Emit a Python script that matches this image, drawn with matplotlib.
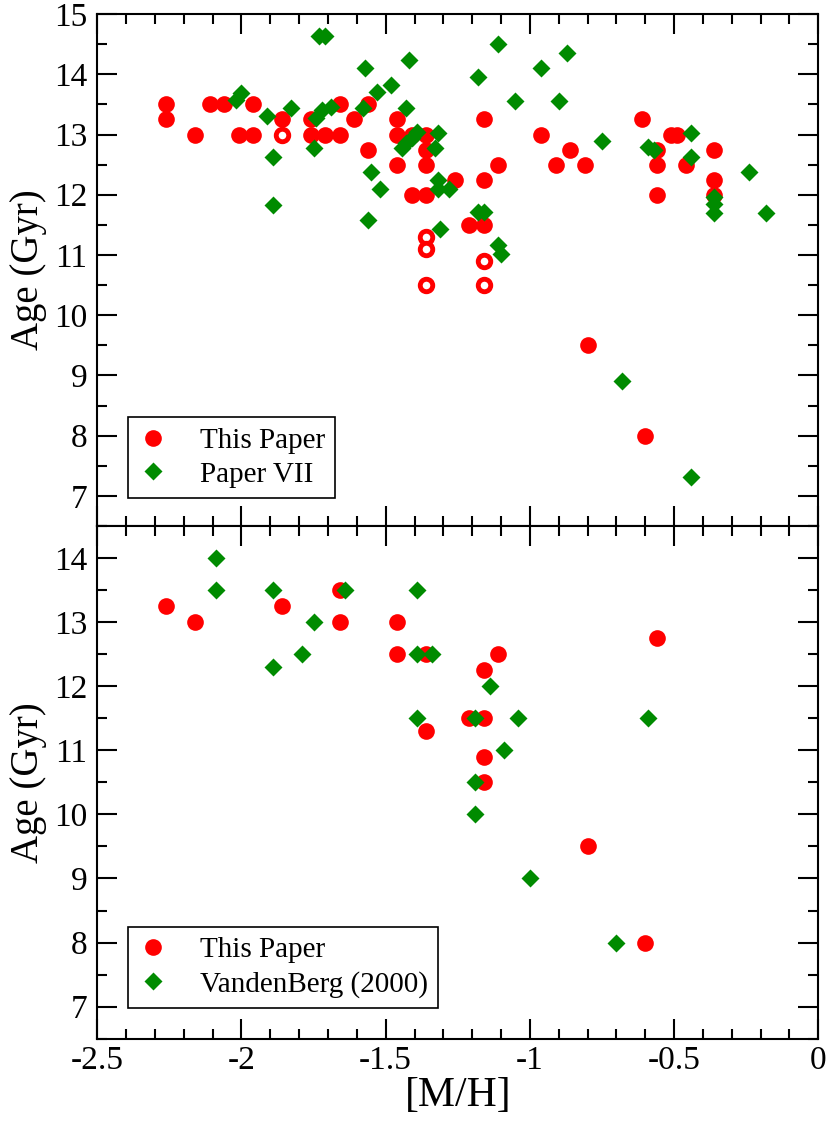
#ages of globular clusters vs metallicity, two comparison panels

import matplotlib
matplotlib.use('Agg')
import matplotlib.pyplot as plt
from matplotlib.ticker import MultipleLocator

plt.rcParams['font.family'] = 'Liberation Serif'
plt.rcParams['axes.unicode_minus'] = False

## data: top panel
top_this_mh = [-2.26, -2.26, -2.16, -2.11, -2.06, -2.01, -1.96, -1.96, -1.86, -1.76,
               -1.76, -1.71, -1.66, -1.66, -1.61, -1.56, -1.56, -1.46, -1.46, -1.46,
               -1.41, -1.36, -1.36, -1.36, -1.41, -1.36, -1.26, -1.21, -1.16, -1.16,
               -1.16, -1.11, -0.96, -0.91, -0.86, -0.81, -0.61, -0.56, -0.56, -0.56,
               -0.51, -0.49, -0.46, -0.36, -0.36, -0.36, -0.80, -0.60]
top_this_age = [13.5, 13.25, 13.0, 13.5, 13.5, 13.0, 13.5, 13.0, 13.25, 13.25,
                13.0, 13.0, 13.0, 13.5, 13.25, 13.5, 12.75, 13.25, 13.0, 12.5,
                13.0, 13.0, 12.75, 12.5, 12.0, 12.0, 12.25, 11.5, 11.5, 13.25,
                12.25, 12.5, 13.0, 12.5, 12.75, 12.5, 13.25, 12.75, 12.5, 12.0,
                13.0, 13.0, 12.5, 12.75, 12.25, 12.0, 9.5, 8.0]

# open symbols
top_open_mh = [-1.86, -1.36, -1.36, -1.36, -1.16, -1.16]
top_open_age = [13.0, 11.3, 11.1, 10.5, 10.9, 10.5]

top_p7_mh = [-2.02, -2.00, -1.91, -1.89, -1.89, -1.83, -1.75, -1.74, -1.72, -1.69,
             -1.73, -1.71, -1.58, -1.57, -1.53, -1.48, -1.42, -1.43, -1.445, -1.43,
             -1.41, -1.39, -1.32, -1.33, -1.55, -1.52, -1.56, -1.32, -1.32, -1.28,
             -1.31, -1.18, -1.16, -1.11, -1.10, -1.18, -1.11, -1.05, -0.96, -0.87,
             -0.90, -0.75, -0.59, -0.57, -0.44, -0.44, -0.36, -0.36, -0.36, -0.24,
             -0.18, -0.68, -0.44]
top_p7_age = [13.58, 13.69, 13.30, 12.63, 11.83, 13.44, 12.78, 13.27, 13.40, 13.46,
              14.63, 14.63, 13.44, 14.10, 13.70, 13.82, 14.24, 13.44, 12.77, 12.86,
              12.95, 13.04, 13.03, 12.77, 12.37, 12.10, 11.58, 12.25, 12.10, 12.10,
              11.43, 11.71, 11.71, 11.17, 11.02, 13.96, 14.50, 13.56, 14.10, 14.36,
              13.56, 12.90, 12.79, 12.75, 13.02, 12.63, 11.97, 11.85, 11.69, 12.37,
              11.69, 8.91, 7.32]

## data: bottom panel
bot_this_mh = [-2.26, -2.16, -1.86, -1.66, -1.66, -1.46, -1.46, -1.36, -1.36, -1.21,
               -1.16, -1.16, -1.11, -1.16, -1.16, -0.56, -0.80, -0.60]
bot_this_age = [13.25, 13.0, 13.25, 13.5, 13.0, 13.0, 12.5, 12.5, 11.3, 11.5,
                11.5, 12.25, 12.5, 10.9, 10.5, 12.75, 9.5, 8.0]

bot_vdb_mh = [-2.09, -2.09, -1.89, -1.89, -1.75, -1.79, -1.64, -1.39, -1.39, -1.34,
              -1.39, -1.19, -1.14, -1.04, -1.09, -1.19, -1.19, -1.00, -0.59, -0.70]
bot_vdb_age = [14.0, 13.5, 13.5, 12.3, 13.0, 12.5, 13.5, 13.5, 12.5, 12.5,
               11.5, 11.5, 12.0, 11.5, 11.0, 10.5, 10.0, 9.0, 11.5, 8.0]

red = '#ff0000'
green = '#008b00'

fig = plt.figure(figsize=(8.3, 11.23), dpi=100)
ax1 = fig.add_axes([0.1172, 0.5316, 0.8687, 0.4559])
ax2 = fig.add_axes([0.1172, 0.0751, 0.8687, 0.4565])


def style_axis(ax, ymin, ymax, ylabels):
    ax.set_xlim(-2.5, 0)
    ax.set_ylim(ymin, ymax)
    ax.xaxis.set_major_locator(MultipleLocator(0.5))
    ax.xaxis.set_minor_locator(MultipleLocator(0.1))
    ax.yaxis.set_major_locator(MultipleLocator(1))
    ax.yaxis.set_minor_locator(MultipleLocator(0.5))
    ax.set_yticks(ylabels)
    ax.tick_params(which='both', direction='in', top=True, right=True, width=1.5)
    ax.tick_params(which='major', length=14.5, labelsize=24, pad=7)
    ax.tick_params(which='minor', length=7.5)
    for s in ax.spines.values():
        s.set_linewidth(1.5)
    ax.set_ylabel('Age (Gyr)', fontsize=28, labelpad=5)


## top panel
ax1.plot(top_this_mh, top_this_age, 'o', color=red, ms=12, mec='none', label='This Paper')
ax1.plot(top_open_mh, top_open_age, 'o', mfc='white', mec=red, ms=9, mew=3.5)
ax1.plot(top_p7_mh, top_p7_age, 'D', color=green, ms=9, mec='none', label='Paper VII')
style_axis(ax1, 6.5, 15, list(range(7, 16)))
ax1.tick_params(labelbottom=False)

## bottom panel
ax2.plot(bot_this_mh, bot_this_age, 'o', color=red, ms=12, mec='none', label='This Paper')
ax2.plot(bot_vdb_mh, bot_vdb_age, 'D', color=green, ms=9, mec='none', label='VandenBerg (2000)')
style_axis(ax2, 6.5, 14.5, list(range(7, 15)))
ax2.set_xticks([-2.5, -2, -1.5, -1, -0.5, 0])
ax2.set_xticklabels(['-2.5', '-2', '-1.5', '-1', '-0.5', '0'])
ax2.tick_params(axis='x', pad=5)
ax2.set_xlabel('[M/H]', fontsize=30, labelpad=0)

## legends
for ax, yb in [(ax1, 0.055), (ax2, 0.06)]:
    leg = ax.legend(loc='lower left', bbox_to_anchor=(0.043, yb), fontsize=21,
                    frameon=True, fancybox=False, framealpha=1, edgecolor='black',
                    borderaxespad=0, handlelength=1.0, handletextpad=1.1,
                    borderpad=0.35, labelspacing=0.25)
    leg.get_frame().set_linewidth(1.2)

fig.savefig('out.png', dpi=100)
